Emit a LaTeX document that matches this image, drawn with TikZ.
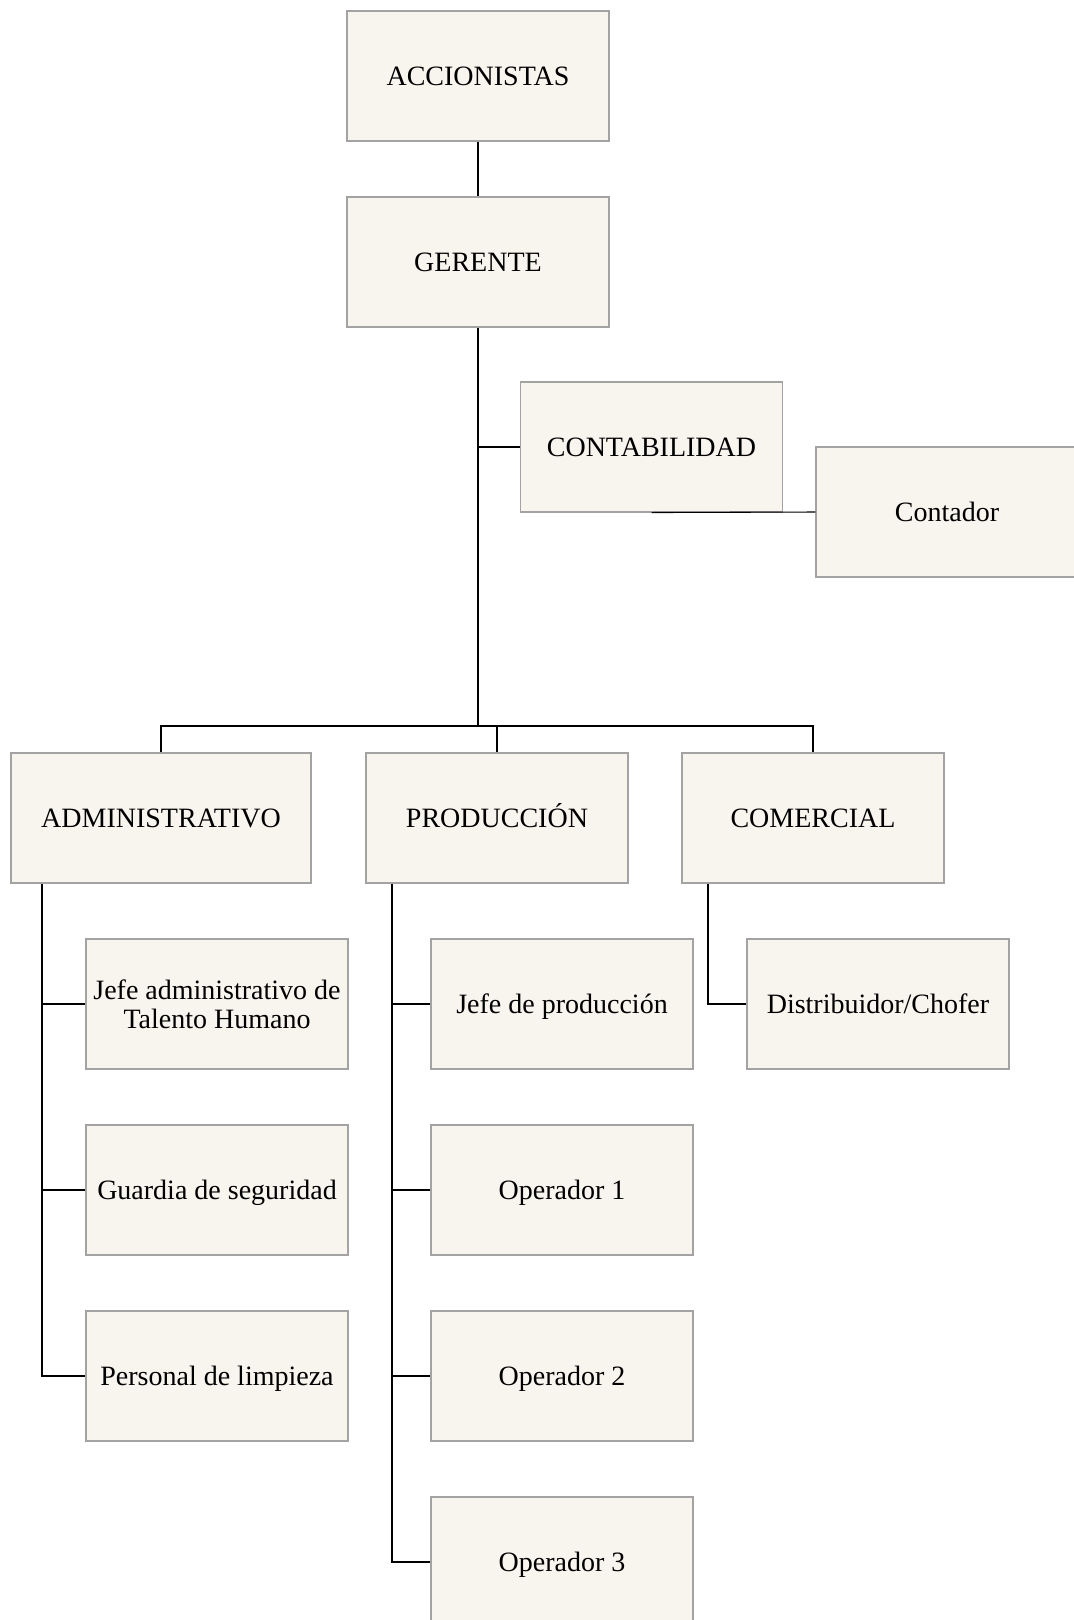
\documentclass[tikz,border=0pt]{standalone}
\usepackage{fontspec}
\setmainfont{Liberation Serif}
\usepackage{xcolor}
\usetikzlibrary{positioning}
\definecolor{boxfill}{HTML}{F8F4EE}
\definecolor{boxline}{HTML}{A3A3A3}

\begin{document}
\begin{tikzpicture}[x=0.75pt,y=0.75pt,thick,node distance=139.5pt,
    org node/.style={draw=boxline,fill=boxfill,minimum width=196.5pt,minimum height=97.5pt,inner sep=2pt,align=center,text height=16pt,text depth=2.1pt,font=\fontsize{21}{22}\selectfont},
    wide node/.style={org node,minimum width=225pt}]
\useasboundingbox (0,0) rectangle (1074,-1620);

        % top levels
        \node[org node] (acc) at (478,-76) {ACCIONISTAS};
        \node[org node] (ger) [below of = acc] {GERENTE};
        \node[org node] (conta) at (651.5,-447) {CONTABILIDAD};
        \node[org node] (contador) at (947,-512) {Contador};

        % departments
        \node[wide node] (adm) at (161,-818) {ADMINISTRATIVO};
        \node[org node] (prod) at (497,-818) {PRODUCCIÓN};
        \node[org node] (com) at (813,-818) {COMERCIAL};
        \coordinate (bus) at (478,-726);

        % staff
        \node[org node, text height=, text depth=] (jadm) at (217,-1004) {Jefe administrativo de\\Talento Humano};
        \node[org node] (guar) [below of = jadm] {Guardia de seguridad};
        \node[org node] (limp) [below of = guar] {Personal de limpieza};

        \node[org node] (jprod) at (562,-1004) {Jefe de producción};
        \node[org node] (op1) [below of = jprod] {Operador 1};
        \node[org node] (op2) [below of = op1] {Operador 2};
        \node[org node] (op3) [below of = op2] {Operador 3};

        \node[org node] (dist) at (878,-1004) {Distribuidor/Chofer};

        \coordinate (admline) at ([xshift=-89.25pt]adm.south);
        \coordinate (prodline) at ([xshift=-78.75pt]prod.south);
        \coordinate (comline) at ([xshift=-78.75pt]com.south);

        \draw (acc) -- (ger);
        \draw[line width=1.1pt] (ger) -- (bus);
        \draw (ger.south |- conta.west) -- (conta.west);
        \draw (conta.south) -- (contador.west);
        \draw (adm.north) |- (bus) -| (com.north);
        \draw (prod.north |- bus) -- (prod.north);

        \draw (admline) |- (limp.west);
        \foreach \kid in {jadm,guar}
            \draw (admline |- \kid.west) -- (\kid.west);
        \draw (prodline) |- (op3.west);
        \foreach \kid in {jprod,op1,op2}
            \draw (prodline |- \kid.west) -- (\kid.west);
        \draw (comline) |- (dist.west);
\end{tikzpicture}
\end{document}
